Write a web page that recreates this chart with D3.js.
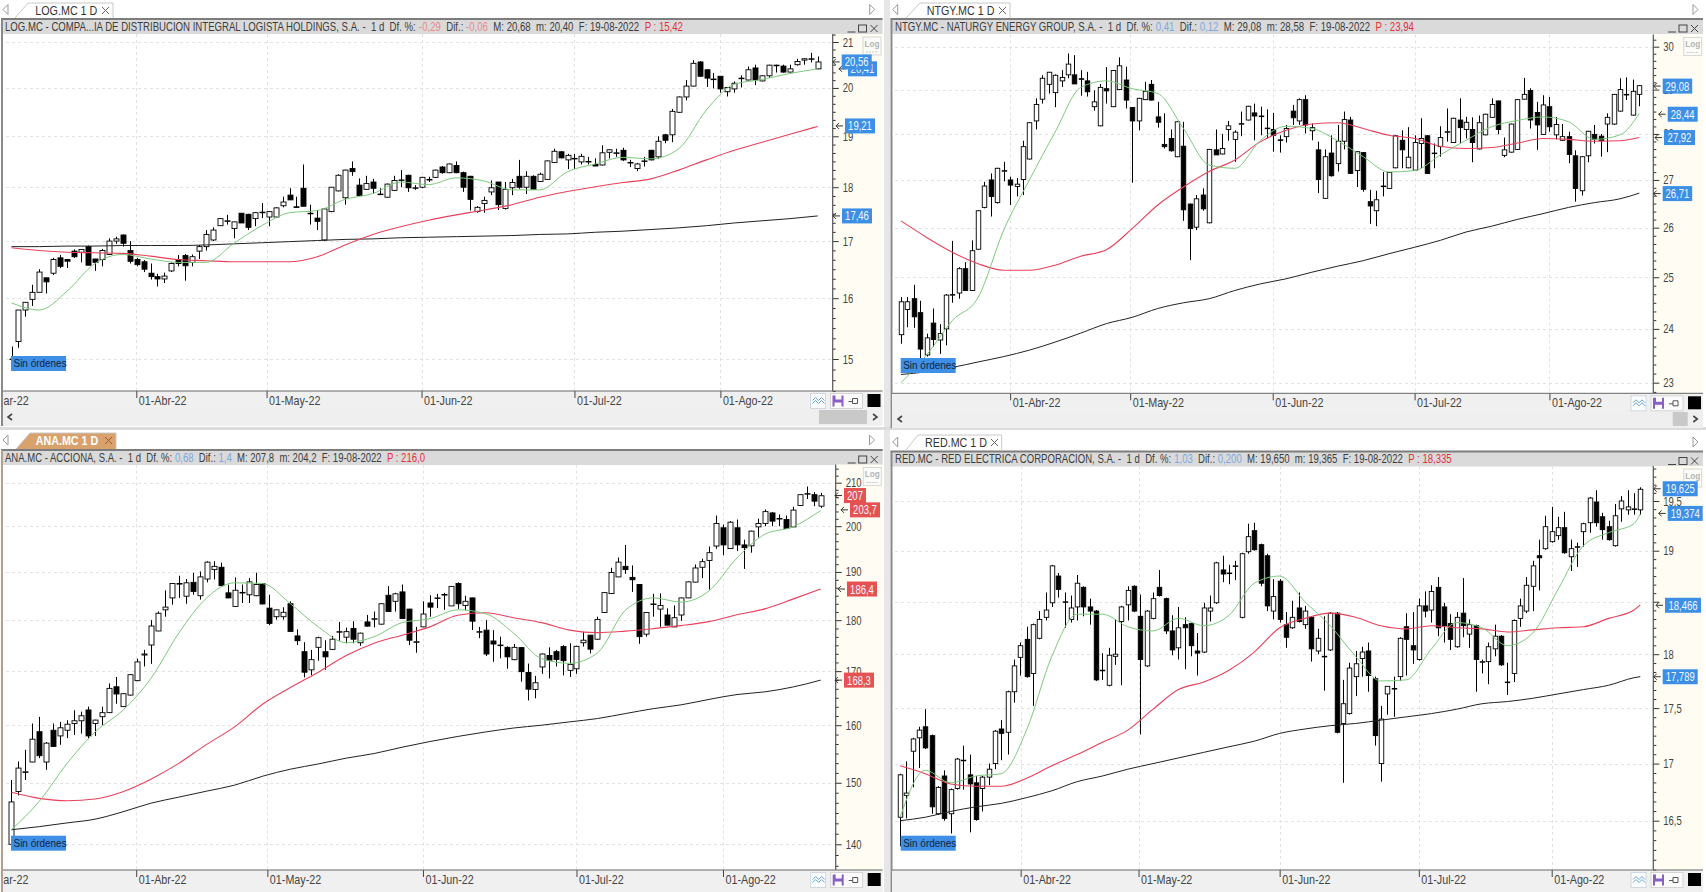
<!DOCTYPE html>
<html><head><meta charset="utf-8">
<script src="https://cdn.jsdelivr.net/npm/d3@7"></script>
<style>
html,body{margin:0;padding:0;background:#fff;overflow:hidden}
svg{display:block}
text{font-family:"Liberation Sans",Arial,sans-serif;white-space:pre}
</style></head><body><div id="chart"></div>
<script>
// ---------- LOG.MC ----------
const logOpen=[15.0,15.28,15.8,15.98,16.1,16.35,16.43,16.7,16.67,16.82,
16.8,16.9,16.68,16.67,16.76,17.0,17.11,16.83,16.67,16.63,
16.43,16.37,16.33,16.47,16.67,16.74,16.62,16.82,16.9,17.02,
17.28,17.36,17.23,17.51,17.49,17.41,17.52,17.44,17.44,17.65,
17.85,17.63,17.98,17.51,17.42,17.02,17.54,17.93,17.8,18.36,
18.04,17.96,18.1,17.87,17.81,17.94,18.13,18.23,17.99,18.0,
18.15,18.19,18.39,18.28,18.42,18.28,18.21,17.54,17.69,17.91,
18.1,17.6,17.99,18.21,18.0,18.21,18.11,18.15,18.48,18.69,
18.53,18.56,18.49,18.5,18.44,18.43,18.68,18.67,18.72,18.48,
18.36,18.51,18.72,18.59,19.03,19.03,19.49,19.81,20.04,20.56,
20.39,20.19,20.25,19.92,19.98,20.2,20.17,20.43,20.15,20.26,
20.49,20.47,20.34,20.5,20.6,20.63,20.41];
const logClose=[15.0,15.8,15.93,16.1,16.45,16.28,16.67,16.55,16.64,16.72,
16.85,16.57,16.62,16.83,17.0,17.04,16.96,16.64,16.58,16.5,
16.37,16.33,16.38,16.6,16.6,16.56,16.72,16.9,17.12,17.2,
17.41,17.37,17.35,17.33,17.25,17.52,17.53,17.54,17.61,17.72,
17.76,17.62,17.64,17.5,17.36,17.59,18.0,18.23,18.33,18.3,
17.84,18.07,17.98,17.87,18.06,18.13,18.14,17.99,17.99,18.19,
18.15,18.33,18.28,18.45,18.28,18.0,17.77,17.62,17.75,17.99,
17.67,17.96,18.09,18.0,18.21,17.96,18.25,18.51,18.7,18.57,
18.62,18.56,18.6,18.5,18.41,18.67,18.73,18.67,18.53,18.48,
18.45,18.51,18.53,18.9,18.92,19.51,19.81,20.04,20.53,20.25,
20.21,20.18,19.98,20.01,20.1,20.21,20.39,20.17,20.26,20.49,
20.49,20.34,20.41,20.57,20.63,20.63,20.56];
const logHigh=[15.2,15.8,15.93,16.23,16.5,16.35,16.7,16.75,16.68,16.85,
16.85,16.92,16.68,16.86,17.05,17.08,17.12,17.0,16.7,16.66,
16.6,16.42,16.44,16.62,16.75,16.77,16.76,16.93,17.2,17.25,
17.42,17.48,17.35,17.51,17.5,17.53,17.7,17.55,17.62,17.82,
17.98,17.82,18.44,17.67,17.57,17.6,18.0,18.25,18.34,18.5,
18.17,18.22,18.16,17.98,18.07,18.22,18.33,18.24,18.04,18.2,
18.2,18.34,18.41,18.46,18.5,18.3,18.22,17.64,17.82,18.13,
18.1,18.1,18.16,18.53,18.31,18.23,18.28,18.52,18.75,18.7,
18.65,18.65,18.65,18.59,18.56,18.82,18.74,18.75,18.77,18.53,
18.47,18.59,18.73,19.0,19.05,19.56,19.82,20.17,20.6,20.58,
20.4,20.32,20.25,20.02,20.14,20.27,20.46,20.5,20.27,20.5,
20.5,20.5,20.5,20.63,20.64,20.76,20.68];
const logLow=[14.9,15.18,15.69,15.87,16.1,16.08,16.4,16.52,16.52,16.7,
16.62,16.57,16.47,16.55,16.76,16.95,16.9,16.6,16.55,16.45,
16.32,16.2,16.26,16.45,16.55,16.3,16.55,16.68,16.83,17.0,
17.28,17.3,17.05,17.33,17.2,17.27,17.42,17.27,17.42,17.62,
17.76,17.62,17.64,17.3,17.2,17.0,17.53,17.92,17.67,18.22,
17.84,17.95,17.88,17.85,17.8,17.93,18.0,17.91,17.95,17.98,
18.1,18.18,18.26,18.27,18.27,17.91,17.56,17.52,17.52,17.85,
17.57,17.58,17.85,17.97,17.87,17.95,18.1,18.14,18.47,18.56,
18.35,18.35,18.44,18.44,18.41,18.42,18.56,18.59,18.51,18.39,
18.31,18.4,18.52,18.55,18.86,18.88,19.48,19.74,20.03,20.24,
20.02,19.99,19.9,19.82,19.9,20.01,20.16,20.06,20.14,20.22,
20.33,20.33,20.33,20.48,20.5,20.55,20.4];
const logMaDays=[0,4,8,12,16,20,24,28,32,36,40,44,48,52,56,60,64,68,72,76,80,84,88,92,96,100,104,108,112,116];
const logGreen=[15.92,15.8,16.12,16.6,16.76,16.68,16.62,16.62,16.96,17.28,17.52,17.56,17.77,17.88,18.1,18.05,18.18,18.12,17.95,17.95,18.3,18.45,18.58,18.55,18.75,19.54,20.08,20.18,20.31,20.41];
const logRed=[16.88,16.83,16.8,16.79,16.78,16.73,16.67,16.65,16.63,16.63,16.63,16.72,16.93,17.12,17.26,17.38,17.48,17.57,17.67,17.81,17.92,18.01,18.09,18.16,18.33,18.53,18.72,18.88,19.04,19.2];
const logBlack=[16.9,16.9,16.91,16.91,16.92,16.92,16.92,16.93,16.95,16.97,16.99,17.01,17.03,17.04,17.06,17.07,17.08,17.09,17.1,17.12,17.13,17.16,17.18,17.21,17.24,17.28,17.33,17.37,17.41,17.46];
const logTicks=[15,16,17,18,19,20,21];
const logTagValues=[17.46,19.21,20.41,20.56];
const logTitle=["LOG.MC - COMPA...IA DE DISTRIBUCION INTEGRAL LOGISTA HOLDINGS, S.A. -  1 d  Df. %: ","-0,29","  Dif.: ","-0,06","  M: 20,68  m: 20,40  F: 19-08-2022  ","P : 15,42"];
const logDateDays=[-1.5,17.96,36.7,59,81,102];
const logDateLabels=["ar-22","01-Abr-22","01-May-22","01-Jun-22","01-Jul-22","01-Ago-22"];

// ---------- NTGY.MC ----------
const ntgyOpen=[23.89,24.37,24.58,24.31,23.51,24.11,23.79,24.0,24.65,24.69,
25.17,24.74,25.56,26.42,27.0,26.52,27.2,27.0,26.86,27.01,
27.45,28.29,28.78,29.12,28.93,29.2,29.34,29.34,29.25,29.2,
28.61,28.18,29.02,28.61,29.0,29.22,28.59,28.29,28.77,29.12,
28.38,27.77,27.9,27.5,27.73,26.49,26.01,26.68,26.1,27.65,
27.56,28.1,27.88,28.23,28.31,28.47,28.4,28.13,28.1,27.87,
27.94,28.51,28.29,28.77,28.07,27.65,26.61,27.58,27.35,27.84,
28.31,27.2,27.59,26.54,26.35,26.87,26.82,27.26,27.86,27.26,
27.21,27.79,27.96,27.58,27.72,28.05,27.81,28.31,28.1,28.1,
27.67,27.98,28.37,28.74,27.53,27.6,27.66,28.78,28.98,28.48,
27.99,28.61,27.98,27.86,27.94,27.52,26.77,27.52,27.99,27.95,
28.22,28.22,28.51,28.89,28.42,28.89];
const ntgyClose=[24.52,24.52,24.23,23.62,23.83,23.8,23.91,24.65,24.66,25.17,
24.74,25.53,26.35,26.87,26.65,27.25,27.2,26.89,26.91,27.72,
28.25,28.66,29.26,29.4,29.33,29.28,29.59,29.13,29.24,28.95,
28.72,29.05,28.97,29.44,29.55,28.76,28.29,28.8,28.96,28.76,
28.26,27.72,27.63,28.27,26.37,25.98,26.6,26.39,27.66,27.54,
27.68,28.18,28.04,28.23,28.62,28.4,28.4,28.12,27.97,27.86,
28.12,28.36,28.77,28.2,28.14,27.01,27.5,27.09,27.84,28.32,
27.14,27.61,26.8,26.45,26.58,26.87,27.16,27.96,27.65,27.49,
27.81,27.9,27.14,27.58,27.92,28.05,28.35,28.14,28.26,27.81,
28.25,28.44,28.66,28.1,27.65,28.22,28.77,28.89,28.31,28.2,
28.65,28.16,28.21,27.94,27.55,26.82,27.5,28.06,27.88,27.85,
28.37,28.89,29.0,28.89,28.96,29.09];
const ntgyHigh=[24.61,24.61,24.85,24.54,23.91,24.39,24.09,24.67,25.73,25.2,
25.3,25.74,26.36,26.96,27.14,27.26,27.39,27.07,27.04,27.85,
28.26,28.8,29.33,29.41,29.35,29.45,29.84,29.8,29.45,29.41,
28.98,29.13,29.52,29.45,29.75,29.53,28.6,28.81,29.18,29.22,
28.72,28.46,28.1,28.28,28.27,26.5,26.68,26.82,27.67,28.1,
28.0,28.29,28.08,28.5,28.63,28.68,28.61,28.55,28.47,27.97,
28.2,28.65,28.8,28.87,28.23,27.83,27.66,27.97,28.2,28.5,
28.38,27.62,27.6,26.79,26.77,27.17,27.17,27.97,28.08,28.15,
27.97,28.35,27.97,27.79,28.17,28.57,28.36,28.8,28.38,28.37,
28.41,28.45,28.8,28.75,27.92,28.23,28.78,29.27,29.03,28.72,
28.87,28.83,28.38,28.22,28.05,27.64,27.51,28.07,28.2,28.0,
28.46,28.9,29.26,29.28,29.23,29.1];
const ntgyLow=[23.72,24.03,24.02,23.45,23.48,23.66,23.53,23.69,24.5,24.58,
24.74,24.73,25.55,26.4,26.23,26.5,26.97,26.47,26.65,26.68,
27.44,28.1,28.68,28.91,28.6,29.06,29.26,29.13,28.86,28.84,
28.52,28.17,28.68,28.6,28.99,28.57,26.94,28.08,28.76,28.75,
28.14,27.68,27.61,27.49,26.14,25.34,25.95,26.35,26.09,27.54,
27.55,27.85,27.39,27.95,28.3,27.86,27.97,27.9,27.61,27.59,
27.81,28.2,28.2,28.01,27.86,26.72,26.6,27.07,27.18,27.66,
27.13,26.85,26.75,26.08,26.03,26.65,26.81,27.25,27.25,27.25,
27.2,27.25,27.14,27.25,27.5,27.83,27.8,27.79,27.9,27.38,
27.66,27.97,28.36,27.99,27.49,27.59,27.65,28.77,28.12,27.65,
27.98,28.05,27.88,27.85,27.36,26.54,26.67,27.38,27.79,27.5,
27.6,28.2,28.5,28.76,28.41,28.62];
const ntgyMaDays=[0,4,8,12,16,20,24,28,32,36,40,44,48,52,56,60,64,68,72,76,80,84,88,92,96,100,104,108,112,115];
const ntgyGreen=[23.0,23.51,24.16,24.6,25.95,27.0,28.04,29.05,29.2,29.02,28.91,28.12,27.32,27.25,27.86,28.17,28.12,27.85,27.5,27.17,27.2,27.54,27.86,28.16,28.3,28.38,28.27,27.88,27.98,28.46];
const ntgyRed=[26.14,25.8,25.5,25.27,25.14,25.14,25.24,25.42,25.55,25.98,26.47,26.85,27.18,27.43,27.83,28.08,28.22,28.25,28.12,27.97,27.9,27.73,27.68,27.7,27.8,27.9,27.88,27.84,27.85,27.92];
const ntgyBlack=[23.15,23.2,23.28,23.38,23.48,23.6,23.75,23.92,24.1,24.22,24.39,24.5,24.58,24.74,24.87,24.97,25.1,25.22,25.33,25.47,25.6,25.74,25.91,26.03,26.17,26.29,26.42,26.52,26.6,26.72];
const ntgyTicks=[23,24,25,26,27,28,29,30];
const ntgyTagValues=[26.71,27.92,28.44,29.08];
const ntgyTitle=["NTGY.MC - NATURGY ENERGY GROUP, S.A. -  1 d  Df. %: ","0,41","  Dif.: ","0,12","  M: 29,08  m: 28,58  F: 19-08-2022  ","P : 23,94"];
const ntgyDateDays=[17,35.7,57.9,80,101];
const ntgyDateLabels=["01-Abr-22","01-May-22","01-Jun-22","01-Jul-22","01-Ago-22"];

// ---------- ANA.MC ----------
const anaOpen=[140,148.54,151.85,153.53,158.84,153.53,159.1,158.09,159.1,160.3,
160.8,162.76,160.3,161.53,162.27,167.05,163.37,165.5,168.2,173.1,
175.06,177.83,182.1,184.55,187.55,184.9,187.8,185,188.5,190.5,
191,185.6,182.8,185.7,185.2,185,187.55,182.45,180.7,180.7,
183.35,176.85,173.75,170.25,174.6,173.75,174.2,177.7,176.6,178.35,
175.5,179.65,180.3,179.2,185.1,183.85,185.8,182.25,175.7,178.65,
183.5,184.55,185.25,182.9,187.55,183,184.55,177.7,178,175.85,
175.05,174.6,172.2,174.55,169.75,166.55,170.8,173,173.75,174.75,
170.15,170.45,175.5,177,176.2,181.55,185.45,188.95,191.2,188.85,
187.35,177.2,183.3,182.25,181.05,178.65,181.05,184.55,187.85,191,
192.45,195.6,199.65,195.05,199.65,195.85,195.65,199.85,200.6,203,
201.75,201.5,199.85,204.7,207.45,207.2,204.55];
const anaClose=[146.81,152.49,151.85,157.51,154.62,156.82,156.24,159.54,160.18,160.8,
161.7,158.09,160.92,162.27,166.75,165.7,165.76,169.33,171.77,173.3,
178.82,181.4,182.66,187.55,187.55,187.7,185.9,188.95,192.1,191.2,
187.1,184.55,186.15,185.7,187.9,187.35,183.3,179.35,182.1,181.6,
177.75,175.9,169.8,172.2,176.5,172.75,176.2,177.7,177.7,176.2,
177.4,178.8,180.3,183.35,181.75,185.4,180.35,176,175.7,181.25,
182.65,184.55,185.25,186.95,183.35,183.85,179.8,177.7,173.3,175.25,
175.05,172.75,174.6,169.9,166.6,167.8,173.3,172.1,172.25,172,
171.3,174.8,176,174.25,180.15,185.65,189.9,192.1,190.5,188.35,
176.7,181.55,183.3,183,179,180.5,184.55,187.9,190.85,192.2,
194.15,200.6,195.85,200.9,195.85,195.25,198.9,200.6,203.3,201.15,
201.75,199.5,203.65,207.2,207.45,205.7,206.95];
const anaHigh=[150.46,153.63,155.66,160.3,161.5,157,160.3,160.6,160.9,162.7,
162.45,163.37,161,163.37,167.67,168.9,165.8,169.4,172.4,174.1,
180,181.75,186.1,187.6,189.2,188.5,189.8,190.1,192.3,192.3,
192,187.3,188.85,187.35,188.7,189.85,187.6,185.2,182.15,182.6,
183.85,178.15,175.6,174.1,176.7,176,176.85,179.65,178.5,179.8,
177.5,181.05,181.75,183.4,187,185.6,187.35,182.3,178.65,183.85,
185.1,185.4,185.6,187,187.8,185,184.6,178.65,180,178,
176.7,174.8,175.25,174.6,171.45,169.1,173.4,174.6,174.1,175,
175.4,174.9,177.7,177.05,180.7,185.7,190.9,193.1,195.85,191.4,
187.4,181.6,185.4,185.5,182.4,183,184.6,188,191.6,192.85,
195.5,202.4,200.4,201.15,201.5,197,199,201.7,203.8,203.2,
202.65,202.4,204.4,207.3,209.1,207.8,207.6];
const anaLow=[140,147.89,150.46,153.5,154.2,152.2,156.2,156.53,157.7,158.27,
158.5,157.51,158.09,160,162.2,163.9,163.3,165.4,168.1,170.9,
171.4,177.8,180.7,183.15,184.55,183.35,185.2,184.2,187.8,188.4,
187,184.5,182.7,183.5,183.5,184.9,183.2,179,180.1,180.1,
177.7,175.05,168.8,169.2,172,170.25,174.1,175.9,175.4,175.4,
174.9,178.7,178.55,179.1,181.7,181.75,180.3,175.05,173.55,178.6,
180.7,182.45,182.1,182.9,182.3,182,178,176.4,172.9,171.8,
172.45,170.45,172.1,168,164.5,164.9,169.5,168.6,170.9,169.2,
168.9,169.5,174.75,173.4,176.1,181.5,185.4,188.9,189.6,185.8,
175.3,176.7,180.7,178.65,178.95,178.6,179.85,184.5,187.8,188.7,
186.3,195,193.6,195,194.5,190.65,194.15,197.5,200,200,
200,199.4,199.8,204.6,206.2,204.55,204.15];
const anaMaDays=[0,4,8,12,16,20,24,28,32,36,40,44,48,52,56,60,64,68,72,76,80,84,88,92,96,100,104,108,112,116];
const anaGreen=[142.3,146.9,153.3,158.8,162.7,168.6,177.4,184.55,187.7,187.55,183.35,178.65,175.5,176.7,179.5,180.3,182.1,181.3,177.4,172.4,171.5,173.5,182.0,184.55,183.7,186.0,193,198.2,199.85,203.55];
const anaRed=[148.4,147.4,147,147.3,148.5,150.6,153.3,156.6,159.7,163.8,166.9,169.8,173,175.4,177,178.65,181,181.5,180.5,179.5,178,177.5,177.8,178.3,178.9,179.7,181.1,182.3,184.3,186.4];
const anaBlack=[142.3,142.8,143.4,144,145.2,146.6,147.6,148.6,149.6,151.1,152.3,153.2,154.2,155,156.1,157.1,158,158.8,159.5,160,160.6,161.2,162.1,163,163.7,164.7,165.6,166.1,167,168.3];
const anaTicks=[140,150,160,170,180,190,200,210];
const anaTagValues=[168.3,186.4,203.7,207];
const anaTitle=["ANA.MC - ACCIONA, S.A. -  1 d  Df. %: ","0,68","  Dif.: ","1,4","  M: 207,8  m: 204,2  F: 19-08-2022  ","P : 216,0"];
const anaDateDays=[-1.5,17.9,36.7,59,81,102];
const anaDateLabels=["ar-22","01-Abr-22","01-May-22","01-Jun-22","01-Jul-22","01-Ago-22"];

// ---------- RED.MC ----------
const redOpen=[16.53,16.72,17.11,17.23,17.33,17.25,16.56,16.89,16.56,16.78,
17.03,16.9,16.83,16.78,16.88,17,17.31,17.28,17.65,17.97,
18.14,17.82,18.15,18.35,18.49,18.75,18.5,18.33,18.45,18.64,
18.45,18.41,17.85,17.71,17.98,18.31,18.47,18.65,18.36,17.89,
18.34,18.64,18.53,18.22,18.06,18.28,18.29,18.03,18.02,18.41,
18.49,18.81,18.78,18.85,18.35,18.99,19.2,19.06,18.95,18.41,
18.7,18.28,18.25,18.44,18.28,18.35,18.03,17.98,18.04,18.39,
17.36,17.45,17.79,17.96,18.03,17.77,17,17.63,17.68,17.79,
18.26,18.08,17.95,18.46,18.42,18.64,18.45,18.29,18.07,18.39,
18.19,18.27,17.93,17.93,18.05,18.17,17.74,17.82,18.34,18.41,
18.65,18.95,19.02,19.09,19.15,19.23,18.94,19.04,19.19,19.28,
19.49,19.34,19.24,19.05,19.42,19.41,19.42,19.41];
const redClose=[16.9,16.74,17.22,17.3,17.14,16.62,16.79,16.52,16.77,17.04,
17.03,16.82,16.51,16.88,16.95,17.29,17.27,17.65,17.89,18.08,
17.79,18.28,18.33,18.42,18.85,18.62,18.5,18.44,18.68,18.45,
18.41,17.76,17.85,17.99,18,18.45,18.61,18.41,17.95,18.41,
18.53,18.56,18.22,18.04,18.25,18.25,18.08,18.01,18.44,18.44,
18.88,18.77,18.78,18.85,18.97,19.14,19.01,18.68,18.46,18.55,
18.33,18.16,18.35,18.31,18.41,18.05,18.15,17.98,18.39,17.28,
17.54,17.87,17.91,18.02,17.8,17.25,17.4,17.7,17.68,18.15,
18.14,18.04,18.46,18.41,18.6,18.25,18.27,18.14,18.35,18.27,
18.28,17.95,17.93,18.07,18.17,17.9,17.74,18.32,18.46,18.66,
18.85,18.93,19.24,19.19,19.23,18.98,19.02,19.04,19.27,19.53,
19.28,19.21,19.11,19.35,19.5,19.44,19.42,19.62];
const redHigh=[16.91,17.02,17.23,17.33,17.49,17.26,16.8,16.94,16.78,17.05,
17.16,17.08,16.89,16.89,17,17.3,17.39,17.66,17.95,18.11,
18.26,18.29,18.41,18.59,18.86,18.78,18.59,18.56,18.76,18.65,
18.53,18.42,18.01,18.06,18.33,18.46,18.65,18.66,18.57,18.42,
18.59,18.81,18.54,18.37,18.45,18.35,18.3,18.2,18.49,18.56,
18.89,18.95,18.86,18.9,18.98,19.27,19.28,19.07,18.97,18.72,
18.72,18.4,18.51,18.59,18.46,18.36,18.24,18.36,18.4,18.4,
17.76,17.92,18.03,18.07,18.11,17.79,17.52,17.7,17.79,18.16,
18.39,18.4,18.53,18.6,18.66,18.74,18.49,18.38,18.4,18.73,
18.33,18.28,17.95,18.11,18.28,18.18,17.92,18.33,18.53,18.74,
18.9,19.11,19.35,19.44,19.34,19.39,19.11,19.08,19.28,19.54,
19.61,19.38,19.3,19.47,19.55,19.61,19.58,19.64];
const redLow=[16.28,16.52,16.79,16.96,17.13,16.56,16.55,16.5,16.39,16.77,
16.77,16.4,16.5,16.58,16.81,16.95,17.03,17.08,17.55,17.8,
17.78,17.52,18.14,18.32,18.45,18.54,18.25,18.3,18.32,18.36,
18.28,17.75,17.76,17.7,17.9,17.71,18.32,18.4,17.26,17.88,
18.33,18.55,18.19,17.99,17.95,17.86,17.98,17.8,18.01,18.31,
18.48,18.69,18.67,18.71,18.34,18.97,19,18.65,18.41,18.33,
18.3,18.06,18.24,18.3,18.24,17.93,18,17.66,18.03,17.27,
16.83,17.44,17.61,17.79,17.65,17.16,16.84,17.44,17.42,17.75,
17.8,17.91,17.94,18.35,18.3,18.17,18.11,18.04,18.06,18.16,
18.06,17.65,17.82,17.72,17.98,17.89,17.62,17.74,18.26,18.39,
18.41,18.61,19.01,19.08,19.11,18.97,18.8,18.84,19.04,19.18,
19.24,19.11,19.1,19.04,19.29,19.36,19.36,19.36];
const redMaDays=[0,4,8,12,16,20,24,28,32,36,40,44,48,52,56,60,64,68,72,76,80,84,88,92,96,100,104,108,112,116,117];
const redGreen=[16.53,16.94,16.83,16.89,16.91,17.3,17.98,18.38,18.38,18.26,18.22,18.34,18.27,18.37,18.68,18.75,18.5,18.27,17.98,17.75,17.76,18.05,18.3,18.25,18.08,18.2,18.62,19.05,19.18,19.27,19.37];
const redRed=[16.98,16.91,16.82,16.8,16.8,16.87,16.98,17.08,17.19,17.3,17.49,17.67,17.74,17.85,18.02,18.25,18.34,18.39,18.35,18.27,18.24,18.27,18.25,18.24,18.21,18.23,18.25,18.26,18.34,18.42,18.47];
const redBlack=[16.5,16.53,16.58,16.62,16.65,16.7,16.76,16.84,16.89,16.95,17,17.05,17.1,17.15,17.2,17.27,17.31,17.34,17.36,17.39,17.42,17.45,17.49,17.54,17.56,17.59,17.63,17.67,17.71,17.78,17.79];
const redTicks=[16.5,17,17.5,18,18.5,19,19.5];
const redTickLabels=["16,5","17","17,5","18","","19","19,5"];
const redTagValues=[17.789,18.466,19.625,19.374];
const redTitle=["RED.MC - RED ELECTRICA CORPORACION, S.A. -  1 d  Df. %: ","1,03","  Dif.: ","0,200","  M: 19,650  m: 19,365  F: 19-08-2022  ","P : 18,335"];
const redDateDays=[19.07,37.7,60,82,103];
const redDateLabels=["01-Abr-22","01-May-22","01-Jun-22","01-Jul-22","01-Ago-22"];

const tabNames=["LOG.MC 1 D","NTGY.MC 1 D","ANA.MC 1 D","RED.MC 1 D"];
const noOrdersLabel="Sin órdenes";

// ---------- page ----------
const svg=d3.select("#chart").append("svg").attr("width",1706).attr("height",892);
const defs=svg.append("defs");
svg.append("rect").attr("width",1706).attr("height",892).attr("fill","#ffffff");
svg.append("rect").attr("x",884).attr("width",6).attr("y",0).attr("height",892).attr("fill","#e6e6e6");
svg.append("rect").attr("x",0).attr("width",1706).attr("y",427).attr("height",3).attr("fill","#dcdcdc");

function zip(o,h,l,c){
  if(o.length!==h.length||o.length!==l.length||o.length!==c.length) throw new Error("len "+[o.length,h.length,l.length,c.length]);
  return o.map((v,i)=>({i,o:v,h:h[i],l:l[i],c:c[i]}));
}

const panels=[
 {id:"log",candles:zip(logOpen,logHigh,logLow,logClose),days:logMaDays,g:logGreen,r:logRed,b:logBlack,ticks:logTicks,tags:logTagValues,
  tagFmt:["17,46","19,21","20,41","20,56"],tagX:[842,845,848,841.7],tagW:[30,30,29,30],tagC:"#3d8fe6",
  title:logTitle,titleX:5,titleEnd:683,dateDays:logDateDays,dateLabels:logDateLabels,
  x0:11.5,x1:817.7,dom:[15,21],rng:[359,42],frame:1,left:3,axisX:832.7,end:882.5,top:19,pTop:34,pBot:391,rowEnd:410,scrollEnd:426,bw:5,
  tab:{name:0,pts:[[15,18],[28,3],[113,3],[113,18]],tx:35.3,ty:15,xx:105,fill:"#fff",txt:"#333",tri:5,triY:9.5,triR:871.7},
  scroll:{l:10,r:875,t0:819,t1:867},noX:11,noY:356,border:"#8a8a8a",log:863},
 {id:"ntgy",candles:zip(ntgyOpen,ntgyHigh,ntgyLow,ntgyClose),days:ntgyMaDays,g:ntgyGreen,r:ntgyRed,b:ntgyBlack,ticks:ntgyTicks,tags:ntgyTagValues,
  tagFmt:["26,71","27,92","28,44","29,08"],tagX:[1662.7,1664,1667.7,1662.7],tagW:[29.5,31,30,29.5],tagC:"#3d8fe6",
  title:ntgyTitle,titleX:895,titleEnd:1414,dateDays:ntgyDateDays,dateLabels:ntgyDateLabels,
  x0:901,x1:1639.3,dom:[23,30],rng:[382.7,46.7],frame:890.5,left:892,axisX:1653.3,end:1703,top:19,pTop:34.5,pBot:393.3,rowEnd:412,scrollEnd:428,bw:4.5,
  tab:{name:1,pts:[[906,18],[920,3],[1010,3],[1010,18]],tx:926.7,ty:15,xx:1002,fill:"#fff",txt:"#333",tri:894.7,triY:9.5,triR:1695},
  scroll:{l:900,r:1695.3,t0:1672.7,t1:1687.7},noX:900.7,noY:358,border:"#8a8a8a",log:1683.7},
 {id:"ana",candles:zip(anaOpen,anaHigh,anaLow,anaClose),days:anaMaDays,g:anaGreen,r:anaRed,b:anaBlack,ticks:anaTicks,tags:anaTagValues,
  tagFmt:["168,3","186,4","203,7","207"],tagX:[844,847,850,844],tagW:[30,30,30,22],tagC:"#e65252",
  title:anaTitle,titleX:5,titleEnd:425,dateDays:anaDateDays,dateLabels:anaDateLabels,
  x0:11.3,x1:820.7,dom:[140,210],rng:[844.3,482.7],frame:1,left:3,axisX:835.7,end:882.7,top:450,pTop:464.5,pBot:870,rowEnd:892,bw:5,
  tab:{name:2,pts:[[16,449],[30,433],[116,433],[116,449]],tx:35.7,ty:445,xx:108,fill:"#d9a26d",txt:"#fff",tri:5,triY:440,triR:871.5},
  noX:11,noY:835.7,border:"#b49f8d",log:863.3},
 {id:"red",candles:zip(redOpen,redHigh,redLow,redClose),days:redMaDays,g:redGreen,r:redRed,b:redBlack,ticks:redTicks,tickLabels:redTickLabels,tags:redTagValues,
  tagFmt:["17,789","18,466","19,625","19,374"],tagX:[1662.7,1665,1662.7,1667.7],tagW:[35,36,35,35],tagC:"#3d8fe6",
  title:redTitle,titleX:895,titleEnd:1451.7,dateDays:redDateDays,dateLabels:redDateLabels,
  x0:900,x1:1640.3,dom:[16.5,19.5],rng:[820.7,501],frame:890.5,left:892,axisX:1653.3,end:1703,top:451.5,pTop:466,pBot:870,rowEnd:892,bw:4.5,
  tab:{name:3,pts:[[906,450],[918,435],[1001.7,435],[1001.7,450]],tx:925,ty:447,xx:994,fill:"#fff",txt:"#333",tri:894.7,triY:442,triR:1695},
  noX:900.7,noY:835.7,border:"#8a8a8a",log:1683.7}
];

const fmt=d=>String(d).replace(".",",");

// squeeze a label horizontally around its own anchor point
function squeeze(node,anchorX,f){
  node.setAttribute("transform",`translate(${anchorX},0) scale(${f},1) translate(${-anchorX},0)`);
}

function drawPanel(p){
  const g=svg.append("g").attr("class","panel-"+p.id);
  const n=p.candles.length;
  const x=d3.scaleLinear().domain([0,n-1]).range([p.x0,p.x1]);
  const y=d3.scaleLog().domain(p.dom).range(p.rng);

  // tab
  const t=p.tab;
  g.append("path").attr("d",d3.line()(t.pts)+"").attr("fill",t.fill).attr("stroke","#c8c8c8");
  g.append("text").attr("x",t.tx).attr("y",t.ty).attr("font-size",12.5).attr("fill",t.txt).attr("font-weight",t.name===2?"bold":"normal").text(tabNames[t.name]);
  g.append("path").attr("d",`M${t.xx-3},${t.ty-8}l7,7M${t.xx+4},${t.ty-8}l-7,7`).attr("stroke",t.name===2?"#a05a30":"#666").attr("fill","none");
  g.append("path").attr("d",`M${t.tri+3},${t.triY-5}l-5,5l5,5z`).attr("fill","#fff").attr("stroke","#999");
  g.append("path").attr("d",`M${t.triR-2},${t.triY-5}l5,5l-5,5z`).attr("fill","#fff").attr("stroke","#999");

  // frame
  g.append("rect").attr("x",p.frame).attr("y",p.top).attr("width",p.end-p.frame).attr("height",15).attr("fill","#dadada");
  g.append("rect").attr("x",p.frame).attr("y",p.top-1).attr("width",p.end-p.frame).attr("height",2).attr("fill","#7d7d7d");
  g.append("rect").attr("x",p.frame).attr("y",p.top).attr("width",2).attr("height",(p.scrollEnd||p.rowEnd)-p.top).attr("fill",p.border);
  g.append("rect").attr("x",p.axisX).attr("y",p.pTop).attr("width",p.end-p.axisX).attr("height",p.pBot-p.pTop).attr("fill","#fffdf3");
  g.append("rect").attr("x",p.left).attr("y",p.pBot).attr("width",p.end-p.left).attr("height",p.rowEnd-p.pBot).attr("fill","#f0f0f0");
  if(p.scrollEnd){
    g.append("rect").attr("x",p.left).attr("y",p.rowEnd).attr("width",p.end-p.left).attr("height",p.scrollEnd-p.rowEnd).attr("fill","#efefef");
    g.append("rect").attr("x",p.scroll.t0).attr("y",p.rowEnd).attr("width",p.scroll.t1-p.scroll.t0).attr("height",14).attr("fill","#c9c9c9");
    const cy=(p.rowEnd+p.scrollEnd)/2-1;
    g.append("path").attr("d",`M${p.scroll.l+2},${cy-3}l-4,3l4,3`).attr("stroke","#444").attr("stroke-width",1.6).attr("fill","none");
    g.append("path").attr("d",`M${p.scroll.r-2},${cy-3}l4,3l-4,3`).attr("stroke","#444").attr("stroke-width",1.6).attr("fill","none");
  }

  // title: one text per coloured segment, laid end to end
  const redLike=p.title[1].startsWith("-");
  const segs=p.title.map((s,i)=>{
    const c=i===5?"#e5303a":(i===1||i===3)?(redLike?"#ec8a8a":"#7aa9e0"):"#3c3c3c";
    return g.append("text").attr("y",p.top+12).attr("font-size",12).attr("fill",c).text(s);
  });
  const widths=segs.map(s=>s.node().getComputedTextLength());
  const scale=(p.titleEnd-p.titleX)/d3.sum(widths);
  let cursor=p.titleX;
  segs.forEach((s,i)=>{
    s.attr("x",cursor).attr("data-done",1);
    squeeze(s.node(),cursor,scale);
    cursor+=widths[i]*scale;
  });

  // window buttons
  const bx=p.end-31, by=p.top+10;
  g.append("path").attr("d",`M${bx-4},${by+3}h8`).attr("stroke","#444").attr("fill","none");
  g.append("rect").attr("x",bx+7).attr("y",by-4).attr("width",8).attr("height",7).attr("fill","none").attr("stroke","#444");
  g.append("path").attr("d",`M${bx+19},${by-4}l7,7m0,-7l-7,7`).attr("stroke","#444").attr("fill","none");

  // clip
  const cid="clip-"+p.id;
  defs.append("clipPath").attr("id",cid).append("rect").attr("x",p.left).attr("y",p.pTop).attr("width",p.axisX-p.left).attr("height",p.pBot-p.pTop);
  const did="cliprow-"+p.id;
  defs.append("clipPath").attr("id",did).append("rect").attr("x",p.left).attr("y",p.pBot-1).attr("width",p.axisX-p.left).attr("height",p.rowEnd-p.pBot+1);
  const plot=g.append("g").attr("clip-path",`url(#${cid})`);

  // grid
  const gridDash="3,3";
  plot.append("g").selectAll("line").data(p.ticks).join("line")
    .attr("x1",p.left+3).attr("x2",p.axisX).attr("y1",d=>Math.round(y(d))+.5).attr("y2",d=>Math.round(y(d))+.5)
    .attr("stroke","#e2e2e2").attr("stroke-dasharray",gridDash);
  plot.append("g").selectAll("line").data(p.dateDays).join("line")
    .attr("x1",d=>Math.round(x(d))+.5).attr("x2",d=>Math.round(x(d))+.5).attr("y1",p.pTop).attr("y2",p.pBot)
    .attr("stroke","#e2e2e2").attr("stroke-dasharray",gridDash);

  // candles
  const cg=plot.append("g").selectAll("g").data(p.candles).join("g");
  cg.append("line").attr("x1",d=>Math.round(x(d.i))+.5).attr("x2",d=>Math.round(x(d.i))+.5)
    .attr("y1",d=>y(d.h)).attr("y2",d=>y(d.l)).attr("stroke","#000");
  cg.append("rect")
    .attr("x",d=>Math.round(x(d.i))+.5-p.bw/2)
    .attr("y",d=>y(Math.max(d.o,d.c)))
    .attr("width",p.bw)
    .attr("height",d=>Math.max(.6,Math.abs(y(d.o)-y(d.c))))
    .attr("fill",d=>d.c>=d.o?"#fff":"#000").attr("stroke","#000").attr("stroke-width",.9);

  // moving averages
  const line=d3.line().x(d=>x(d[0])).y(d=>y(d[1])).curve(d3.curveMonotoneX);
  const ma=(vals,col,w)=>plot.append("path").datum(p.days.map((dd,k)=>[dd,vals[k]])).attr("d",line).attr("fill","none").attr("stroke",col).attr("stroke-width",w);
  ma(p.b,"#222",1);
  ma(p.r,"#e8415c",1.1);
  ma(p.g,"#7cc97c",1);

  // y axis
  const yAxisG=g.append("g").attr("transform",`translate(${p.axisX},0)`);
  const step=p.ticks[1]-p.ticks[0];
  const minor=[];
  for(let k=-6;k<=6*(p.ticks.length+4);k++){
    const v=p.ticks[0]+k*step/6;
    if(v>0&&y(v)>p.pTop&&y(v)<p.pBot&&k%6!==0) minor.push(v);
  }
  yAxisG.append("g").call(d3.axisRight(y).tickValues(minor).tickSize(3).tickFormat("")).call(s=>s.select(".domain").remove()).call(s=>s.selectAll("text").remove()).selectAll("line").attr("stroke","#333");
  const labels=p.tickLabels;
  const maj=d3.axisRight(y).tickValues(p.ticks).tickSize(6).tickPadding(4)
    .tickFormat((d,i)=>labels?labels[i]:fmt(d));
  yAxisG.append("g").attr("class","yax").call(maj).call(s=>s.select(".domain").remove());
  yAxisG.selectAll(".yax line").attr("stroke","#333");
  yAxisG.selectAll(".yax text").filter(function(){return !this.textContent;}).remove();
  yAxisG.selectAll(".yax text").attr("class","narrow").attr("font-size",12.5).attr("fill","#444").attr("font-family",'"Liberation Sans",Arial,sans-serif');
  g.append("line").attr("x1",p.axisX).attr("x2",p.axisX).attr("y1",p.pTop).attr("y2",p.pBot).attr("stroke","#555").attr("stroke-width",1.2);

  // date axis
  const dateG=g.append("g").attr("clip-path",`url(#${did})`).append("g").attr("class","xax").attr("transform",`translate(0,${p.pBot})`);
  dateG.call(d3.axisBottom(x).tickValues(p.dateDays).tickSize(7).tickPadding(0).tickFormat((d,i)=>p.dateLabels[i])).call(s=>s.select(".domain").remove());
  dateG.selectAll("line").attr("stroke","#444");
  dateG.selectAll("text").attr("text-anchor","start").attr("x",2).attr("dy",".45em").attr("y",8).attr("font-size",12.5).attr("fill","#444").attr("font-family",'"Liberation Sans",Arial,sans-serif');
  g.append("line").attr("x1",p.left).attr("x2",p.end).attr("y1",p.pBot).attr("y2",p.pBot).attr("stroke","#666");

  // icons in date row
  const iy=p.pBot+2.5, ie=p.end;
  g.append("rect").attr("x",ie-72).attr("y",iy).attr("width",15).attr("height",15).attr("fill","#fbfdff").attr("stroke","#cfd8e0");
  g.append("path").attr("d",`M${ie-70},${iy+7}l3,-3l3,3l3,-3l3,3M${ie-70},${iy+10}l3,-3l3,3l3,-3l3,3`).attr("stroke","#6aa3cf").attr("fill","none");
  g.append("rect").attr("x",ie-52).attr("y",iy).attr("width",32).attr("height",15).attr("fill","#fbfbfb").attr("stroke","#d4d4d4");
  g.append("path").attr("d",`M${ie-50},${iy+2}h3v4h6v-4h2v11h-11zM${ie-48},${iy+9}h7v4h-7z`).attr("fill","#8a5fc4").attr("fill-rule","evenodd");
  g.append("path").attr("d",`M${ie-34},${iy+8}h4M${ie-30},${iy+5}h5v5h-5z`).attr("stroke","#555").attr("fill","none");
  g.append("rect").attr("x",ie-15).attr("y",iy+.5).attr("width",13).attr("height",13).attr("fill","#000");

  // "Log" button
  g.append("rect").attr("x",p.log).attr("y",p.pTop+3).attr("width",18).attr("height",18).attr("fill","#fbfbf7").attr("stroke","#d8d8d8");
  g.append("text").attr("x",p.log+9).attr("y",p.pTop+13).attr("text-anchor","middle").attr("font-size",9.5).attr("font-weight","bold").attr("fill","#b5b5b5").text("Log");
  g.append("path").attr("d",`M${p.log+3},${p.pTop+18}h12`).attr("stroke","#c9c9c9").attr("stroke-dasharray","2,1");

  // value tags
  p.tags.forEach((v,i)=>{
    const cy=y(v), tx=p.tagX[i], w=p.tagW[i];
    g.append("path").attr("d",`M${tx-2},${cy}h-7m3,-3l-3,3l3,3`).attr("stroke","#333").attr("fill","none");
    g.append("rect").attr("x",tx).attr("y",cy-7.5).attr("width",w).attr("height",15).attr("fill",p.tagC);
    g.append("text").attr("class","narrow").attr("x",tx+w/2).attr("y",cy+4.5).attr("text-anchor","middle").attr("font-size",12.5).attr("fill","#f2f7ff").text(p.tagFmt[i]);
  });

  // "Sin órdenes"
  g.append("rect").attr("x",p.noX).attr("y",p.noY).attr("width",55).attr("height",15).attr("fill","#3f8fe6");
  g.append("text").attr("x",p.noX+2.5).attr("y",p.noY+11.5).attr("font-size",11.6).attr("fill","#10243c").text(noOrdersLabel);
}
panels.forEach(drawPanel);

// narrow the free-standing labels to the slim look of the screen capture
svg.selectAll("text").each(function(){
  if(this.getAttribute("data-done")) return;
  const f=this.getAttribute("class")==="narrow"?0.76:0.86;
  squeeze(this,+this.getAttribute("x")||0,f);
});
</script></body></html>
